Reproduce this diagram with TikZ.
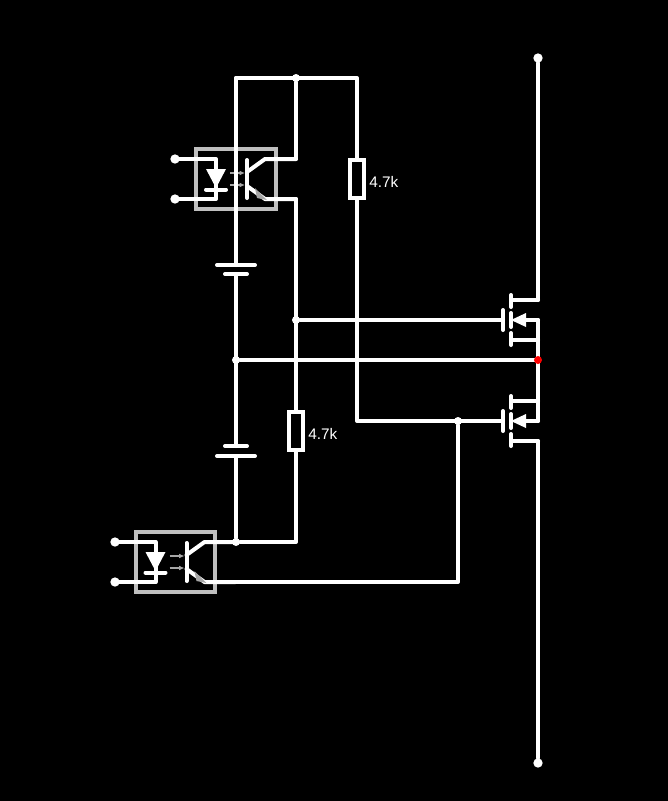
\documentclass[tikz,border=0pt]{standalone}
\usepackage{fontspec}
\setmainfont{Liberation Sans}
\usetikzlibrary{arrows.meta}
\tikzset{
    wire/.style={draw=white, line width=3pt, line cap=round, line join=round},
    dot/.style={circle, fill=white, inner sep=0pt, minimum size=6pt},
    pin/.style={circle, fill=white, inner sep=0pt, minimum size=7pt},
    res/.style={rectangle, draw=white, fill=black, line width=3pt, minimum width=10pt, minimum height=29pt, inner sep=0pt},
    lbl/.style={text=white, font=\fontsize{11.5}{13}\selectfont, anchor=west, inner sep=0pt},
    opto/.pic={
        \draw[draw=black!25, line width=3pt] (-40,-30.5) rectangle (39.5,29.5);
        % diode
        \coordinate (-a) at (-60,-20.5);
        \coordinate (-k) at (-60,19.5);
        \coordinate (-c) at (60,-20.5);
        \coordinate (-e) at (60,19.5);
        \draw[wire] (-a) -- (-20,-20.5) -- (-20,19.5) -- (-k);
        \fill[white] (-30,-10.5) -- (-10,-10.5) -- (-20,8.5) -- cycle;
        \draw[wire] (-30,10) -- (-10,10);
        % light
        \draw[draw=black!35, line width=1pt, -{Latex[length=4pt,width=3.5pt]}] (-6,-6.5) -- (9,-6.5);
        \draw[draw=black!35, line width=1pt, -{Latex[length=4pt,width=3.5pt]}] (-6,5.5) -- (9,5.5);
        % transistor
        \draw[wire] (11,-19.5) -- (11,18.5);
        \draw[wire] (-c) -- (29,-20.5) -- (11,-7.5);
        \draw[wire] (11,6.5) -- (29,19.5) -- (-e);
        \fill[black!35] (19,8.5) -- (31,20.5) -- (21,18.5) -- cycle;
    },
    fet/.pic={
        \coordinate (-g) at (-8,0);
        \coordinate (-d) at (27,-20);
        \coordinate (-m) at (27,0);
        \coordinate (-s) at (27,20);
        \draw[wire] (-8,-10) -- (-8,10);
        \draw[wire] (0,-25) -- (0,-13);
        \draw[wire] (0,-7) -- (0,7);
        \draw[wire] (0,13) -- (0,25);
        \draw[wire] (0,-20) -- (-d);
        \draw[wire] (0,20) -- (-s);
        \draw[wire] (10,0) -- (-m);
        \fill[white] (0,0) -- (15,-7) -- (15,7) -- cycle;
    }
}
\begin{document}
\begin{tikzpicture}[x=0.75pt, y=-0.75pt]
    \useasboundingbox[fill=black] (0,0) rectangle (668,801);
    % Parts
    \pic (opa) at (236,179.5) {opto};
    \pic (opb) at (175.5,562.5) {opto};
    \pic (qa) at (511,320) {fet};
    \pic (qb) at (511,421) {fet};
    \node[res] (ra) at (357,179) {};
    \node[res] (rb) at (296,431) {};
    \node[lbl] (la) at (369,182) {4.7k};
    \node[lbl] (lb) at (308,434) {4.7k};
    % Junctions
    \node[dot] (jtop) at (296,78) {};
    \node[dot] (jgate) at (296,320) {};
    \node[dot] (jmid) at (236,360) {};
    \node[dot] (jlow) at (458,421) {};
    \node[dot] (jbat) at (236,542) {};
    \node[pin] (ptop) at (538,58) {};
    \node[pin] (pbot) at (538,763) {};
    \node[pin] (pa1) at (175,159) {};
    \node[pin] (pa2) at (175,199) {};
    \node[pin] (pb1) at (115,542) {};
    \node[pin] (pb2) at (115,582) {};
    \coordinate (ctl) at (236,78);
    \coordinate (ctr) at (357,78);
    \coordinate (bua) at (236,265);
    \coordinate (bub) at (236,274);
    \coordinate (bla) at (236,446);
    \coordinate (blb) at (236,456);
    \coordinate (rail) at (538,360);
    % Wires
    \draw[wire] (ctl) -- (ctr) -- (ra.north);
    \draw[wire] (ra.south) -- (357,421) -- (qb-g);
    \draw[wire] (ctl) -- (bua);
    \draw[wire] (217,265) -- (255,265);
    \draw[wire] (225,274) -- (247,274);
    \draw[wire] (bub) -- (bla);
    \draw[wire] (225,446) -- (247,446);
    \draw[wire] (217,456) -- (255,456);
    \draw[wire] (blb) -- (jbat);
    \draw[wire] (jtop) -- (296,159) -- (opa-c);
    \draw[wire] (opa-e) -- (296,199) -- (rb.north);
    \draw[wire] (rb.south) -- (296,542) -- (jbat) -- (opb-c);
    \draw[wire] (opb-e) -- (458,582) -- (jlow);
    \draw[wire] (jgate) -- (qa-g);
    \draw[wire] (jmid) -- (rail);
    \draw[wire] (ptop) -- (qa-d);
    \draw[wire] (qa-m) -- (qb-m);
    \draw[wire] (qb-s) -- (pbot);
    \draw[wire] (pa1) -- (opa-a);
    \draw[wire] (pa2) -- (opa-k);
    \draw[wire] (pb1) -- (opb-a);
    \draw[wire] (pb2) -- (opb-k);
    \node[circle, fill=red, inner sep=0pt, minimum size=6pt] (jred) at (rail) {};
\end{tikzpicture}
\end{document}
